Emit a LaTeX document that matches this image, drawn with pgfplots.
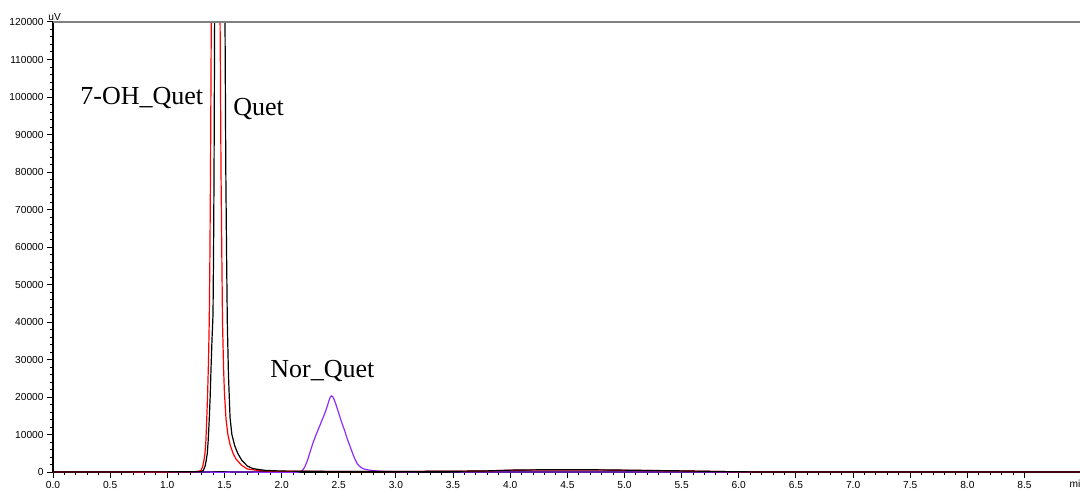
\documentclass[border=0pt]{standalone}
\usepackage{pgfplots}
\pgfplotsset{compat=1.18}
\usepackage{fontspec}
\setmainfont{Liberation Sans}
\newfontfamily\peakfont{Liberation Serif}

\definecolor{norviolet}{RGB}{140,45,255}
\definecolor{framegray}{RGB}{128,128,128}

% detector signal (uV) against retention time (min)
\pgfplotstableread{
t v
0.00 0
0.80 0
1.20 50
1.27 150
1.295 400
1.31 1500
1.32 3000
1.33 5000
1.338 8500
1.345 14000
1.352 20000
1.360 29000
1.367 40000
1.373 58000
1.378 80000
1.384 115000
1.39 150000
1.40 220000
1.41 280000
1.42 300000
1.43 280000
1.44 230000
1.45 175000
1.458 135000
1.463 115000
1.470 80000
1.477 58000
1.483 40000
1.492 28000
1.50 21000
1.514 14000
1.53 10000
1.55 7200
1.575 5000
1.60 3500
1.65 1800
1.70 800
1.80 400
1.90 250
2.00 200
2.50 150
3.00 150
3.50 200
3.80 300
4.00 450
4.30 550
4.70 550
5.00 450
5.50 300
5.90 100
6.20 0
9.00 0
}\hydroxy

\pgfplotstableread{
t v
0.00 0
1.20 50
1.30 150
1.315 400
1.33 1500
1.34 3000
1.35 5000
1.358 8500
1.367 14000
1.375 20000
1.383 28000
1.392 36000
1.400 42000
1.405 60000
1.409 80000
1.414 120000
1.42 160000
1.43 230000
1.445 300000
1.46 320000
1.475 290000
1.49 210000
1.50 150000
1.505 120000
1.512 80000
1.518 60000
1.525 40000
1.535 26000
1.549 14500
1.565 10000
1.59 7000
1.616 5000
1.65 3200
1.70 1600
1.75 900
1.85 450
2.00 250
2.50 150
3.00 150
3.50 200
3.80 300
4.00 500
4.30 600
4.70 600
5.00 500
5.50 300
5.90 100
6.20 0
9.00 0
}\quet

\pgfplotstableread{
t v
0.00 0
0.74 0
0.75 -120
0.87 -120
0.88 0
1.37 0
1.38 -120
1.53 -120
1.54 0
1.79 0
1.80 -120
2.10 -120
2.14 0
2.16 50
2.18 400
2.20 1200
2.22 2600
2.24 4400
2.26 6400
2.28 8200
2.30 9800
2.32 11300
2.34 12800
2.36 14300
2.38 15800
2.40 17600
2.415 19100
2.425 19900
2.435 20300
2.445 20150
2.46 19300
2.48 17600
2.50 15700
2.525 13300
2.55 11200
2.575 8800
2.60 6750
2.63 4300
2.66 2300
2.70 1100
2.75 600
2.85 250
3.00 100
3.50 100
4.00 0
9.00 0
}\norquet

\begin{document}
\begin{tikzpicture}
\begin{axis}[
  at={(0,0)}, anchor=south west,
  scale only axis,
  width=514.35pt, height=225pt,
  xmin=0, xmax=9, ymin=0, ymax=120000,
  axis x line*=bottom, axis y line*=left,
  axis line style={black, line width=0.75pt},
  tick align=outside,
  major tick length=3pt, minor tick length=1.6pt,
  tick style={black, line width=0.5pt},
  xtick={0,0.5,...,8.5},
  minor x tick num=4,
  ytick={0,10000,...,120000},
  minor y tick num=4,
  scaled y ticks=false,
  tick label style={font=\fontsize{5.1}{6}\selectfont},
  xticklabel style={yshift=2pt, /pgf/number format/.cd, fixed, fixed zerofill, precision=1, assume math mode=true},
  yticklabel style={xshift=1.8pt, /pgf/number format/.cd, fixed, 1000 sep={}, assume math mode=true},
  xlabel={min}, ylabel={uV},
  every axis x label/.style={at={(axis description cs:0.9878,0)}, anchor=base west, yshift=-7.8pt, inner sep=0pt, font=\fontsize{5.1}{6}\selectfont},
  every axis y label/.style={at={(axis description cs:0,1)}, anchor=base west, xshift=-2.5pt, yshift=0.7pt, inner sep=0pt, font=\fontsize{5.1}{6}\selectfont},
]
\addplot[norviolet, line width=0.6pt, smooth] table[x=t, y=v] {\norquet};
\addplot[red, line width=0.6pt] table[x=t, y=v] {\hydroxy};
\addplot[black, line width=0.6pt] table[x=t, y=v] {\quet};

\node[anchor=base west, inner sep=0pt, font=\peakfont\fontsize{13}{15}\selectfont] at (axis cs:0.236,97900) {7-OH\_Quet};
\node[anchor=base west, inner sep=0pt, font=\peakfont\fontsize{13}{15}\selectfont] at (axis cs:1.575,95200) {Quet};
\node[anchor=base west, inner sep=0pt, font=\peakfont\fontsize{13}{15}\selectfont] at (axis cs:1.899,25070) {Nor\_Quet};
\end{axis}
\draw[framegray, line width=0.75pt] (current axis.north west) -- (current axis.north east);
\pgfresetboundingbox
\path[use as bounding box] (-26.5pt,-8.5pt) rectangle (513.5pt,236pt);
\end{tikzpicture}
\end{document}
